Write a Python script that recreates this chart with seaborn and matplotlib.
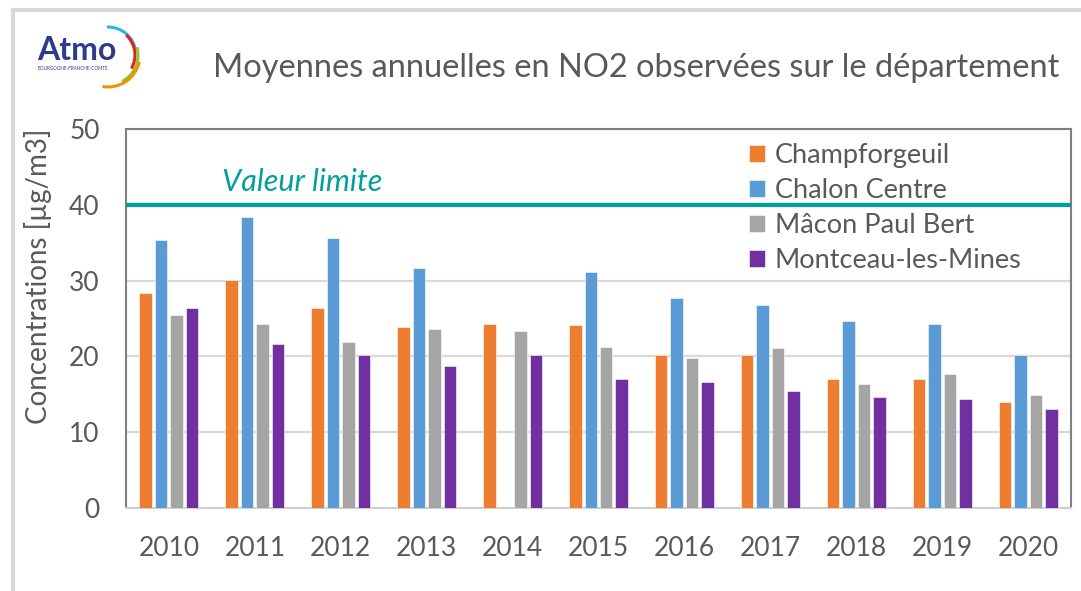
import matplotlib
matplotlib.use("Agg")
import matplotlib.pyplot as plt
from matplotlib.patches import Arc
from matplotlib.lines import Line2D
import seaborn as sns
import numpy as np
import pandas as pd

years = ["2010", "2011", "2012", "2013", "2014", "2015", "2016", "2017", "2018", "2019", "2020"]
stations = ["Champforgeuil", "Chalon Centre", "Mâcon Paul Bert", "Montceau-les-Mines"]
champforgeuil = [28.4, 30.1, 26.4, 23.9, 24.3, 24.1, 20.2, 20.2, 17.0, 17.0, 14.0]
chalon_centre = [35.4, 38.4, 35.6, 31.6, np.nan, 31.2, 27.7, 26.8, 24.7, 24.3, 20.2]
macon_paul_bert = [25.4, 24.3, 21.9, 23.6, 23.4, 21.3, 19.8, 21.1, 16.3, 17.7, 14.9]
montceau = [26.4, 21.7, 20.2, 18.7, 20.2, 17.0, 16.6, 15.5, 14.6, 14.4, 13.1]
limit_value = 40
colors = ["#ED7D31", "#5B9BD5", "#A5A5A5", "#7030A0"]

df = pd.DataFrame({"Année": years, stations[0]: champforgeuil, stations[1]: chalon_centre,
                   stations[2]: macon_paul_bert, stations[3]: montceau})
df_long = df.melt(id_vars="Année", var_name="Station", value_name="NO2")

sns.set_style("white")
plt.rcParams["font.family"] = ["Lato", "DejaVu Sans"]
text_grey = "#595959"
teal = "#00A19A"

fig = plt.figure(figsize=(10.81, 5.91), dpi=100)
ax = fig.add_axes([126 / 1081, 1 - 508 / 591, (1071 - 126) / 1081, (508 - 129) / 591])

sns.barplot(data=df_long, x="Année", y="NO2", hue="Station", hue_order=stations,
            palette=colors, width=0.72, gap=0.19, saturation=1, ax=ax,
            edgecolor="white", linewidth=0.4, zorder=3)

ax.set_ylim(0, 50)
ax.set_yticks([0, 10, 20, 30, 40, 50])
ax.yaxis.grid(True, color="#D9D9D9", linewidth=1.6, zorder=0)
ax.set_axisbelow(True)
ax.set_xlabel("")
ax.set_ylabel("Concentrations [µg/m3]", fontsize=20, color=text_grey)
ax.yaxis.set_label_coords(-0.078, 0.61)
ax.tick_params(axis="both", length=0, labelsize=19, labelcolor=text_grey)
ax.tick_params(axis="x", pad=20)
ax.tick_params(axis="y", pad=19)
for side in ["left", "top", "right"]:
    ax.spines[side].set_color("#808080")
    ax.spines[side].set_linewidth(1.5)
ax.spines["bottom"].set_color("#D0D0D0")
ax.spines["bottom"].set_linewidth(1.5)

# valeur limite
ax.axhline(limit_value, color=teal, linewidth=3, zorder=6)
ax.text(0.1016, 43.0, "Valeur limite", color=teal, fontsize=22, style="italic",
        ha="left", va="center", zorder=6, transform=ax.get_yaxis_transform())

leg = ax.legend(loc="upper left", bbox_to_anchor=(0.6465, 0.995), frameon=True, fontsize=19.5,
                handlelength=0.6, handleheight=0.6, handletextpad=0.35, labelspacing=0.37,
                borderaxespad=0.3, borderpad=0.15)
leg.get_frame().set_facecolor("white")
leg.get_frame().set_edgecolor("white")
leg.get_frame().set_alpha(1)
leg.set_zorder(5)
for t in leg.get_texts():
    t.set_color(text_grey)

fig.text(213 / 1081, 1 - 68 / 591, "Moyennes annuelles en NO2 observées sur le département",
         fontsize=23.4, color=text_grey, ha="left", va="center")

# outer frame
fig.add_artist(Line2D([13 / 1081, 1], [1 - 10 / 591, 1 - 10 / 591], transform=fig.transFigure,
                      color="#D9D9D9", linewidth=3))
fig.add_artist(Line2D([13 / 1081, 13 / 1081], [0, 1 - 10 / 591], transform=fig.transFigure,
                      color="#D9D9D9", linewidth=3))

# logo Atmo (pixel coordinates, equal aspect)
lax = fig.add_axes([30 / 1081, 1 - 90 / 591, 120 / 1081, 70 / 591])
lax.set_xlim(0, 120)
lax.set_ylim(0, 70)
lax.axis("off")
lax.text(7, 40, "Atmo", fontsize=23, fontweight="bold", color="#2E3A8C", ha="left", va="center")
lax.text(8, 22, "BOURGOGNE-FRANCHE-COMTE", fontsize=3.3, color="#2E3A8C", ha="left", va="center")
for r, th1, th2, c in [(28, 8, 92, "#29B6E8"), (27, -30, 48, "#E2231A"),
                       (30, -62, 15, "#8DC63F"), (32, -100, -12, "#F39200")]:
    lax.add_patch(Arc((78, 35), 2 * r, 2 * r, theta1=th1, theta2=th2, color=c, linewidth=2.2))

fig.savefig("out.png", dpi=100)
